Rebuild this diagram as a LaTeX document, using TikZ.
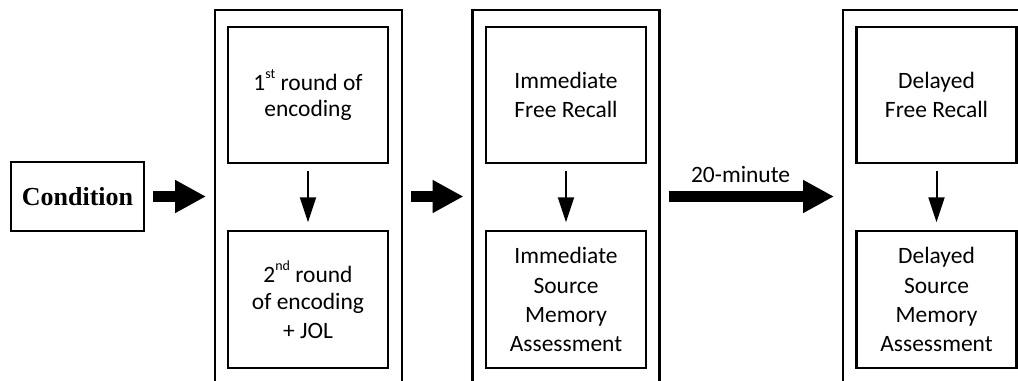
\documentclass[tikz,border=0pt]{standalone}
\usepackage{fontspec}
\setmainfont{Carlito}
\newfontfamily\condfont{Liberation Serif}
\usetikzlibrary{arrows.meta}
\newcommand\supr[1]{\raisebox{0.52em}{\fontsize{10.5}{10.5}\selectfont #1}}
\begin{document}
\begin{tikzpicture}[x=0.75pt,y=-0.75pt,
  txt/.style={font=\fontsize{17.6}{21.8}\selectfont},
  panel/.style={draw,line width=1.6pt,minimum width=140.25pt,minimum height=288.75pt,inner sep=0pt,outer sep=0pt},
  inbox/.style={draw,line width=1.8pt,minimum width=120pt,inner sep=0pt,outer sep=0pt,align=center,txt},
  topbox/.style={inbox,minimum height=102pt},
  botbox/.style={inbox,minimum height=102.75pt},
  bigarrow/.style={line width=8.25pt,-{Triangle[length=23.25pt,width=23.25pt]},shorten <=6.75pt,shorten >=6.75pt},
  smallarrow/.style={line width=1.5pt,-{Triangle[length=18.75pt,width=12pt]},shorten <=6pt,shorten >=6.5pt}]
\useasboundingbox (0,0) rectangle (1018,381);
\clip (0,0) rectangle (1018,381);
% condition
\node[draw,line width=1.8pt,minimum width=99.75pt,minimum height=51.75pt,inner sep=0pt,outer sep=0pt,font=\condfont\bfseries\fontsize{19.5}{22}\selectfont] (cond) at (77.5,196.5) {Condition};
% panels
\node[panel] (p1) at (308.5,202.5) {};
\node[panel] (p2) at (566,202.5) {};
\node[panel] (p3) at (936.5,202.5) {};
% inner boxes
\node[topbox] (a1) at (308,95) {\raisebox{-3pt}{1\supr{st} round of}\\encoding};
\node[botbox] (b1) at (308,299.5) {\raisebox{-2pt}{2\supr{nd} round}\\of encoding\\+ JOL};
\node[topbox] (a2) at (566,95) {Immediate\\Free Recall};
\node[botbox] (b2) at (566,299.5) {Immediate\\Source\\Memory\\Assessment};
\node[topbox] (a3) at (936.5,95) {Delayed\\Free Recall};
\node[botbox] (b3) at (936.5,299.5) {Delayed\\Source\\Memory\\Assessment};
% big arrows
\draw[bigarrow] (cond.east) -- (cond.east -| p1.west);
\draw[bigarrow] (p1.east |- cond.east) -- (p2.west |- cond.east);
\draw[bigarrow] (p2.east |- cond.east) -- node[above=3pt,xshift=-8pt,txt] (lbl) {20-minute} (p3.west |- cond.east);
% small arrows
\draw[smallarrow] (a1) -- (b1);
\draw[smallarrow] (a2) -- (b2);
\draw[smallarrow] (a3) -- (b3);
\end{tikzpicture}
\end{document}
